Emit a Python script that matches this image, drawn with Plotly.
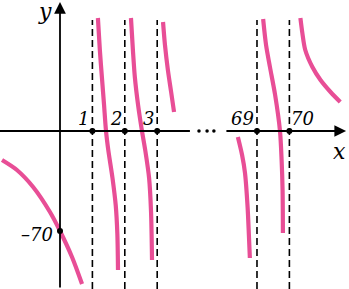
import plotly.graph_objects as go

# ---- data ----
ASYMPTOTES = [1, 2, 3, 69, 70]
ASYMPTOTE_LABELS = ["1", "2", "3", "69", "70"]
Y_INTERCEPT = -70

# branches of the curve (x real, y value)
b1_x = [-1.79, -1.33, -0.83, -0.31, 0.0, 0.37, 0.68]
b1_y = [-20.3, -27.3, -39.2, -56.7, -70.0, -88.2, -107.1]

b2_x = [1.17, 1.23, 1.30, 1.36, 1.42, 1.49, 1.62, 1.72, 1.77, 1.79]
b2_y = [79.1, 56.7, 35.7, 18.2, 0.0, -13.3, -32.9, -52.0, -72.0, -97.3]

b3_x = [2.19, 2.25, 2.31, 2.41, 2.53, 2.63, 2.75, 2.81, 2.84]
b3_y = [79.1, 56.7, 37.8, 18.2, 0.0, -13.3, -32.9, -56.7, -90.3]

b4_x = [3.18, 3.24, 3.33, 3.43, 3.52]
b4_y = [76.3, 60.2, 42.7, 27.3, 13.3]

b5_x = [68.41, 68.54, 68.63, 68.71, 68.75, 68.78]
b5_y = [-4.2, -16.8, -29.4, -53.2, -72.8, -88.9]

b6_x = [69.19, 69.28, 69.40, 69.56, 69.71, 69.76, 69.79, 69.80]
b6_y = [78.4, 60.2, 44.8, 25.2, 0.0, -20.3, -41.3, -71.4]

b7_x = [70.34, 70.40, 70.49, 70.71, 70.96, 71.27, 71.57]
b7_y = [79.1, 68.6, 56.7, 44.8, 35.7, 27.3, 20.3]

BRANCHES = [(b1_x, b1_y), (b2_x, b2_y), (b3_x, b3_y), (b4_x, b4_y),
            (b5_x, b5_y), (b6_x, b6_y), (b7_x, b7_y)]

# ---- broken x axis: values beyond the gap are shifted left ----
BREAK_SHIFT = 62.92


def vx(x):
    return x if x < 10 else x - BREAK_SHIFT


PINK = "rgb(232,78,150)"
FONT = "DejaVu Serif"

X_RANGE = [-1.852, 8.92]
Y_RANGE = [-110.6, 91.7]
ASYM_TOP = 77.7

fig = go.Figure()

# dashed asymptotes
for a in ASYMPTOTES:
    fig.add_shape(type="line", x0=vx(a), x1=vx(a), y0=Y_RANGE[0], y1=ASYM_TOP,
                  line=dict(color="black", width=1.6, dash="7px,4px"), layer="below")

# axes
fig.add_shape(type="line", x0=X_RANGE[0], x1=4.01, y0=0, y1=0,
              line=dict(color="black", width=1.8))
fig.add_annotation(x=8.83, y=0, ax=5.09, ay=0, axref="x", ayref="y", text="",
                   showarrow=True, arrowhead=2, arrowsize=1.3, arrowwidth=1.8,
                   arrowcolor="black")
fig.add_annotation(x=0, y=90.3, ax=0, ay=Y_RANGE[0], axref="x", ayref="y", text="",
                   showarrow=True, arrowhead=2, arrowsize=1.3, arrowwidth=1.8,
                   arrowcolor="black")

# gap dots on x axis
fig.add_trace(go.Scatter(x=[4.29, 4.54, 4.75], y=[0, 0, 0], mode="markers",
                         marker=dict(color="black", size=3.5), hoverinfo="skip"))

# curve branches
for bx, by in BRANCHES:
    fig.add_trace(go.Scatter(x=[vx(v) for v in bx], y=by, mode="lines",
                             line=dict(color=PINK, width=4.2, shape="spline",
                                       smoothing=0.8),
                             hoverinfo="skip"))

# points
pts_x = [vx(a) for a in ASYMPTOTES] + [0]
pts_y = [0] * len(ASYMPTOTES) + [Y_INTERCEPT]
fig.add_trace(go.Scatter(x=pts_x, y=pts_y, mode="markers",
                         marker=dict(color="black", size=6), hoverinfo="skip"))

# labels
tfont = dict(family=FONT, size=18, color="black")
for a, lab in zip(ASYMPTOTES, ASYMPTOTE_LABELS):
    if lab == "70":
        fig.add_annotation(x=vx(a), y=0, text="<i>%s</i>" % lab, showarrow=False,
                           xanchor="left", yanchor="bottom", xshift=0, yshift=0, font=tfont)
    else:
        fig.add_annotation(x=vx(a), y=0, text="<i>%s</i>" % lab, showarrow=False,
                           xanchor="right", yanchor="bottom", xshift=-1, yshift=0, font=tfont)

fig.add_annotation(x=0, y=Y_INTERCEPT, text="<i>\u2013%d</i>" % abs(Y_INTERCEPT),
                   showarrow=False, xanchor="right", yanchor="middle", xshift=-5,
                   yshift=-3, font=tfont)
fig.add_annotation(x=-0.46, y=Y_RANGE[1], text="<i>y</i>", showarrow=False,
                   yanchor="top", yshift=3,
                   font=dict(family=FONT, size=22, color="black"))
fig.add_annotation(x=8.64, y=-14.5, text="<i>x</i>", showarrow=False,
                   font=dict(family=FONT, size=22, color="black"))

fig.update_layout(
    width=349, height=289,
    margin=dict(l=0, r=0, t=0, b=0),
    paper_bgcolor="white", plot_bgcolor="white",
    showlegend=False,
    xaxis=dict(range=X_RANGE, visible=False, fixedrange=True),
    yaxis=dict(range=Y_RANGE, visible=False, fixedrange=True),
)

fig.write_html("out.html")
